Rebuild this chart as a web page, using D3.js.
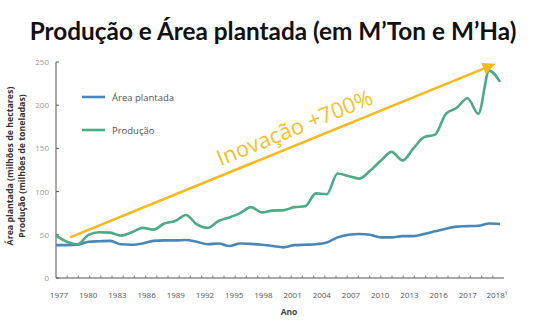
<!DOCTYPE html>
<html><head><meta charset="utf-8">
<script src="https://cdn.jsdelivr.net/npm/d3@7"></script>
<style>body{margin:0;background:#fff}svg{display:block}</style>
</head><body>
<svg id="c" width="541" height="322"></svg>
<script>
const years = d3.range(1977, 2019);
const producao = [49,42,39,50,53,52.5,49,53,58,56,63,66,73,62,58,66,70,75,82,76,78,78.5,82,83,98,97,121,118,115,124,136,146,136,150,163,166,190,197,208,190,240,227];
const area = [38,38,38.5,42,42.5,43,39,38.5,40,43,43.5,43.5,44,42,39,40,37,40,39.5,38.5,37,35.5,38,38.5,39,41,47,50,51,50,47,47,48.5,48.5,51,54,57,59.5,60,60.5,63,62.5];
const xLabels = ["1977","1980","1983","1986","1989","1992","1995","1998","2001","2004","2007","2010","2013","2016","2017","2018¹"];
const yTicks = [0,50,100,150,200,250];
const seriesNames = ["Área plantada","Produção"];
const arrowFrom = [1978.3, 47]; // [year, value]
const arrowTo = [2017.6, 248];

const svg = d3.select("#c");
const x = d3.scaleLinear().domain([1977, 2018]).range([56, 500]);
const y = d3.scaleLinear().domain([0, 250]).range([278, 62]);
const tickIdx = d3.scaleLinear().domain([0, 40]).range([56, 504]);
const xl = d3.scalePoint().domain(xLabels).range([59, 497]);

const blue = "#4a86b8", green = "#4caa86", gold = "#f5b91e";

// Title
const title = svg.append("text").attr("x", 273).attr("y", 40).attr("text-anchor","middle")
  .attr("font-family","Lato").attr("font-weight","bold").attr("font-size",20)
  .attr("fill","#111").text("Produção e Área plantada (em M’Ton e M’Ha)");
const tw = title.node().getComputedTextLength();
title.attr("font-size", 20*487/tw);

// Axes
svg.append("line").attr("x1",56).attr("x2",56).attr("y1",y(250)).attr("y2",y(0)).attr("stroke","#555");
svg.append("line").attr("x1",56).attr("x2",504).attr("y1",y(0)).attr("y2",y(0)).attr("stroke","#555");
svg.selectAll(".yt").data(yTicks).join("line").attr("x1",56).attr("x2",59)
  .attr("y1",d=>y(d)).attr("y2",d=>y(d)).attr("stroke","#555");
svg.selectAll(".ytl").data(yTicks).join("text").attr("x",49).attr("y",d=>y(d)+3)
  .attr("text-anchor","end").attr("font-family","Open Sans").attr("font-size",8).attr("fill","#999").text(d=>d);
svg.selectAll(".xt").data(d3.range(1,40)).join("line").attr("x1",d=>tickIdx(d)).attr("x2",d=>tickIdx(d))
  .attr("y1",y(0)).attr("y2",y(0)-2.5).attr("stroke","#777");
svg.selectAll(".xtl").data(xLabels).join("text").attr("x",d=>xl(d)).attr("y",298)
  .attr("text-anchor","middle").attr("font-family","Open Sans").attr("font-size",8).attr("fill","#555").text(d=>d);
svg.append("text").attr("x",289).attr("y",315).attr("text-anchor","middle").attr("font-family","Open Sans")
  .attr("font-weight","bold").attr("font-size",8.5).attr("fill","#444").text("Ano");

// Y axis titles
const yt = svg.append("g").attr("transform","translate(0,166) rotate(-90)");
yt.append("text").attr("x",0).attr("y",13).attr("text-anchor","middle").attr("font-family","Open Sans")
  .attr("font-weight","bold").attr("font-size",8.8).attr("fill","#333").text("Área plantada (milhões de hectares)");
yt.append("text").attr("x",0).attr("y",25).attr("text-anchor","middle").attr("font-family","Open Sans")
  .attr("font-weight","bold").attr("font-size",8.8).attr("fill","#333").text("Produção (milhões de toneladas)");

// Lines
const line = d3.line().x((d,i)=>x(years[i])).y(d=>y(d)).curve(d3.curveMonotoneX);
svg.append("path").attr("d", line(area)).attr("fill","none").attr("stroke",blue).attr("stroke-width",2.6);
svg.append("path").attr("d", line(producao)).attr("fill","none").attr("stroke",green).attr("stroke-width",2.6);

// Legend
const leg = svg.append("g");
seriesNames.forEach((n,i)=>{
  const ly = 97 + i*33;
  leg.append("line").attr("x1",82).attr("x2",105).attr("y1",ly).attr("y2",ly)
    .attr("stroke", i===0?blue:green).attr("stroke-width",2.6);
  leg.append("text").attr("x",112).attr("y",ly+3.5).attr("font-family","Open Sans").attr("font-size",9.5)
    .attr("fill","#555").text(n);
});

// Arrow
const x1 = x(arrowFrom[0]), y1 = y(arrowFrom[1]), x2 = x(arrowTo[0]), y2 = y(arrowTo[1]);
const ang = Math.atan2(y2-y1, x2-x1);
const hl = 13, hw = 6;
const bx = x2 - hl*Math.cos(ang), by = y2 - hl*Math.sin(ang);
svg.append("line").attr("x1",x1).attr("y1",y1).attr("x2",bx).attr("y2",by).attr("stroke",gold).attr("stroke-width",2.6);
svg.append("path").attr("d",`M${x2},${y2}L${bx + hw*Math.sin(ang)},${by - hw*Math.cos(ang)}L${bx - hw*Math.sin(ang)},${by + hw*Math.cos(ang)}Z`)
  .attr("fill",gold);
const deg = ang*180/Math.PI;
const tx = 301, tyLine = y1 + (tx-x1)*Math.tan(ang);
svg.append("text").attr("transform",`translate(${tx + 9*Math.sin(ang)},${tyLine - 9*Math.cos(ang)}) rotate(${deg})`)
  .attr("text-anchor","middle").attr("font-family","Open Sans").attr("font-weight","normal").attr("font-size",22)
  .attr("fill","#f5bf2a").text("Inovação +700%");
</script>
</body></html>
